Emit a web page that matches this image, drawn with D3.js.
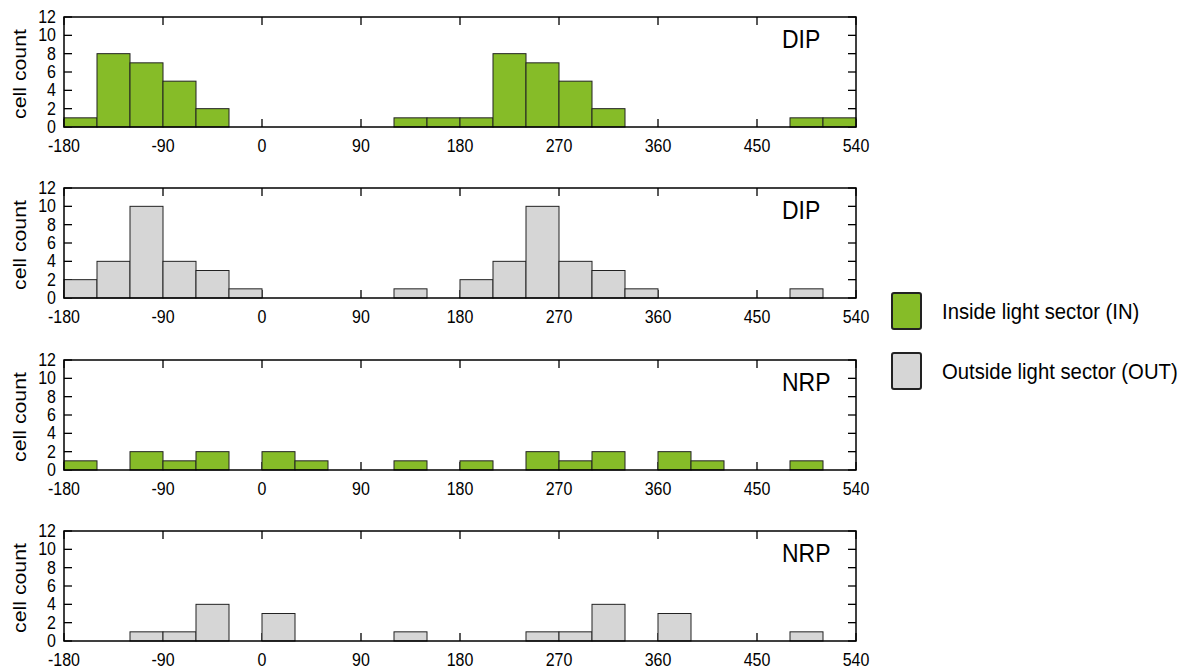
<!DOCTYPE html>
<html lang="en">
  <head>
    <meta charset="UTF-8" />
    <script src="https://d3js.org/d3.v7.min.js"></script>
    <title>Cell count histograms</title>
    <style>
      body { margin: 0; background: #fff; }
      text { font-family: "Liberation Sans", Arial, sans-serif; fill: #000; }
    </style>
  </head>
  <body>
    <div id="my_dataviz"></div>
    <script>
      // bins of 30 degrees from -180 to 540
      var binStarts = d3.range(-180, 540, 30)
      var xTicks = [-180, -90, 0, 90, 180, 270, 360, 450, 540]
      var yTicks = [0, 2, 4, 6, 8, 10, 12]

      var dipIn  = [1,8,7,5,2,0,0,0,0,0,1,1,1,8,7,5,2,0,0,0,0,0,1,1]
      var dipOut = [2,4,10,4,3,1,0,0,0,0,1,0,2,4,10,4,3,1,0,0,0,0,1,0]
      var nrpIn  = [1,0,2,1,2,0,2,1,0,0,1,0,1,0,2,1,2,0,2,1,0,0,1,0]
      var nrpOut = [0,0,1,1,4,0,3,0,0,0,1,0,0,0,1,1,4,0,3,0,0,0,1,0]

      var panelLabels = ["DIP", "DIP", "NRP", "NRP"]
      var panelSeries = [dipIn, dipOut, nrpIn, nrpOut]
      var panelGroup  = ["IN", "OUT", "IN", "OUT"]
      var legendLabels = ["Inside light sector (IN)", "Outside light sector (OUT)"]

      var colors = { IN: "#86bc28", OUT: "#d6d6d6" }

      var width = 1188, height = 669
      var left = 64, right = 856
      var panelTops = [17, 188, 360, 531]
      var panelH = 110
      var tickLen = 8
      var stretch = 1.12   // the original text looks a bit taller than wide

      var svg = d3.select("#my_dataviz")
        .append("svg")
          .attr("width", width)
          .attr("height", height)

      function label(parent, px, py, str, size, anchor) {
        return parent.append("text")
          .attr("transform", "translate(" + px + "," + py + ") scale(1," + stretch + ")")
          .attr("text-anchor", anchor || "start")
          .style("font-size", size + "px")
          .text(str)
      }

      var x = d3.scaleLinear().domain([-180, 540]).range([left, right])

      panelSeries.forEach(function(values, p) {
        var top = panelTops[p]
        var y = d3.scaleLinear().domain([0, 12]).range([top + panelH, top])
        var g = svg.append("g")

        // y ticks on both sides, drawn first so bars cover the left ones
        yTicks.forEach(function(t) {
          g.append("line")
            .attr("x1", left).attr("x2", left + tickLen)
            .attr("y1", y(t)).attr("y2", y(t))
            .attr("stroke", "#000").attr("stroke-width", 1.3)
          g.append("line")
            .attr("x1", right).attr("x2", right - tickLen)
            .attr("y1", y(t)).attr("y2", y(t))
            .attr("stroke", "#000").attr("stroke-width", 1.3)
          label(g, 56, y(t) + 6, t, 16, "end")
        })

        // x ticks, bottom and top, pointing inward
        xTicks.forEach(function(t) {
          g.append("line")
            .attr("x1", x(t)).attr("x2", x(t))
            .attr("y1", y(0)).attr("y2", y(0) - tickLen)
            .attr("stroke", "#000").attr("stroke-width", 1.3)
          g.append("line")
            .attr("x1", x(t)).attr("x2", x(t))
            .attr("y1", y(12)).attr("y2", y(12) + tickLen)
            .attr("stroke", "#000").attr("stroke-width", 1.3)
          label(g, x(t), y(0) + 24.5, t, 16, "middle")
        })

        // bars
        g.selectAll("rect.bar")
          .data(values.map(function(v, i) { return { x0: binStarts[i], v: v } }).filter(function(d) { return d.v > 0 }))
          .enter()
          .append("rect")
            .attr("class", "bar")
            .attr("x", function(d) { return x(d.x0) })
            .attr("width", function(d) { return x(d.x0 + 30) - x(d.x0) })
            .attr("y", function(d) { return y(d.v) })
            .attr("height", function(d) { return y(0) - y(d.v) })
            .attr("fill", colors[panelGroup[p]])
            .attr("stroke", "#222")
            .attr("stroke-width", 1)

        // frame
        g.append("rect")
          .attr("x", left).attr("y", top)
          .attr("width", right - left).attr("height", panelH)
          .attr("fill", "none")
          .attr("stroke", "#000")
          .attr("stroke-width", 1.5)

        g.append("text")
          .attr("transform", "translate(26," + (top + panelH / 2 + 2) + ") rotate(-90) scale(" + stretch + ",1)")
          .attr("text-anchor", "middle")
          .style("font-size", "19px")
          .text("cell count")

        label(g, 782, top + 31, panelLabels[p], 23, "start")
      })

      // legend
      var legend = svg.append("g")
      ;["IN", "OUT"].forEach(function(k, i) {
        var ly = 293 + i * 60
        legend.append("rect")
          .attr("x", 892).attr("y", ly)
          .attr("width", 29).attr("height", 36)
          .attr("rx", 2)
          .attr("fill", colors[k])
          .attr("stroke", "#222")
          .attr("stroke-width", 2)
        label(legend, 942, ly + 26, legendLabels[i], 20.3, "start")
      })
    </script>
  </body>
</html>
